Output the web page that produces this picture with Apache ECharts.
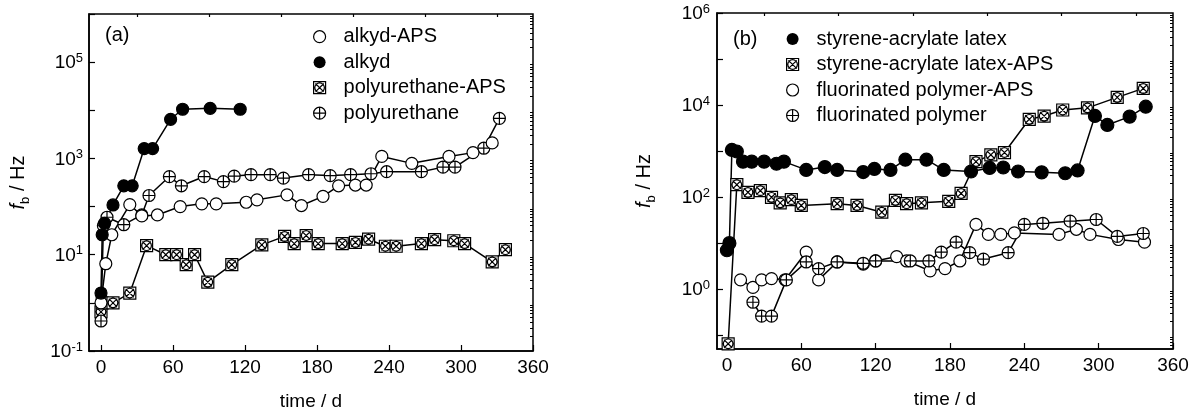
<!DOCTYPE html>
<html>
<head>
<meta charset="utf-8">
<script src="https://cdn.jsdelivr.net/npm/echarts@6/dist/echarts.min.js"></script>
<style>
  html, body { margin: 0; padding: 0; background: #fff; }
  #chart { width: 1200px; height: 418px; }
</style>
</head>
<body>
<div id="chart"></div>
<script>
// ---- panel (a): f_b (Hz) vs time (d) ----
const alkydApsDays = [0, 4, 9, 24, 34, 47, 66, 84, 96, 121, 130, 155, 167, 185, 198, 212, 221, 234, 259, 290, 310, 326];
const alkydApsFb = [1.0, 6.5, 26, 110, 64, 67, 100, 114, 114, 123, 138, 175, 105, 163, 270, 280, 280, 1100, 790, 1100, 1320, 2100];

const alkydDays = [0, 1, 3, 10, 19, 26, 36, 43, 58, 68, 91, 116];
const alkydFb = [1.6, 26, 45, 108, 270, 270, 1600, 1600, 6500, 10500, 11000, 10500];

const puApsDays = [0, 1, 10, 24, 38, 54, 63, 71, 78, 89, 109, 134, 153, 161, 171, 181, 201, 212, 223, 237, 246, 267, 278, 294, 303, 326, 337];
const puApsFb = [0.65, 1.0, 1.0, 1.6, 15.4, 10, 10, 6.2, 10, 2.7, 6.2, 16, 24, 17, 25, 17, 17, 18, 21, 15, 15, 17, 20.5, 19.5, 17, 7.1, 12.7];

const puDays = [0, 2, 5, 19, 34, 40, 57, 67, 86, 102, 111, 125, 141, 152, 173, 191, 208, 225, 238, 267, 285, 295, 319, 332];
const puFb = [0.42, 40, 60, 42, 67, 170, 420, 270, 420, 330, 430, 460, 460, 390, 460, 440, 460, 480, 530, 530, 660, 660, 1630, 6800];

// ---- panel (b) ----
const latexDays = [0, 2, 4, 8, 13, 20, 30, 40, 46, 64, 79, 89, 110, 119, 132, 144, 161, 175, 197, 212, 223, 235, 254, 273, 283, 297, 307, 325, 338];
const latexFb = [7, 10, 1060, 980, 590, 590, 590, 530, 590, 390, 450, 390, 350, 410, 390, 650, 650, 390, 360, 430, 440, 360, 345, 330, 380, 5800, 3700, 5600, 9200];

const latexApsDays = [1, 8, 17, 27, 36, 43, 52, 60, 89, 105, 125, 136, 145, 157, 179, 189, 201, 213, 224, 244, 256, 271, 291, 315, 336];
const latexApsFb = [0.065, 186, 127, 138, 99, 75, 88, 66, 72, 66, 47, 85, 72, 75, 81, 120, 590, 830, 930, 4900, 5760, 7800, 8700, 14700, 23000];

const fluorApsDays = [11, 21, 28, 36, 47, 64, 74, 89, 110, 120, 137, 145, 164, 176, 188, 201, 211, 221, 232, 268, 282, 293, 316, 337];
const fluorApsFb = [1.59, 1.09, 1.59, 1.7, 1.6, 6.4, 1.59, 3.9, 3.5, 4.1, 5.1, 4.1, 2.5, 2.8, 4.1, 25.5, 15.5, 15.5, 16.7, 15.5, 20, 15.5, 12, 10.5];

const fluorDays = [21, 28, 36, 48, 64, 74, 89, 110, 120, 148, 163, 173, 185, 196, 207, 227, 240, 255, 277, 298, 315, 336];
const fluorFb = [0.52, 0.26, 0.26, 1.59, 3.9, 2.8, 3.9, 3.65, 4.1, 4.1, 4.1, 6.4, 10.5, 6.2, 4.5, 6.2, 25.5, 27, 30, 32.6, 14, 16.2];

// ---- ticks ----
const xTickDays = [0, 60, 120, 180, 240, 300, 360];
const xMinorDays = [30, 90, 150, 210, 270, 330];
const decadeExps = [-1, 0, 1, 2, 3, 4, 5, 6];
const leftExpLabels = [-1, 1, 3, 5];
const rightExpLabels = [0, 2, 4, 6];

const FONT = '"Liberation Sans", Arial, Helvetica, sans-serif';
const SYM_BOXX = 'path://M0,0L20,0L20,20L0,20Z M3,3L17,17 M17,3L3,17 M2,10A8,8 0 1,1 18,10A8,8 0 1,1 2,10Z';
const SYM_PLUS = 'path://M0,10A10,10 0 1,1 20,10A10,10 0 1,1 0,10Z M10,0L10,20 M0,10L20,10';

const pts = (days, fb) => days.map((d, i) => [d, Math.log10(fb[i])]);

function logMinors(lo, hi) {
  const out = [];
  for (let n = Math.floor(lo); n < hi; n++) {
    for (let k = 2; k <= 9; k++) {
      const v = n + Math.log10(k);
      if (v >= lo && v <= hi) out.push(v);
    }
  }
  return out;
}

const chart = echarts.init(document.getElementById('chart'));

function xAxes(grid, min) {
  return [{
    gridIndex: grid, type: 'value', min: min, max: 360,
    axisLine: { onZero: false, lineStyle: { color: '#000', width: 1.5 } },
    axisTick: { inside: true, length: 6, customValues: xTickDays, lineStyle: { color: '#000', width: 1.2 } },
    axisLabel: { customValues: xTickDays, fontSize: 19, margin: 7, color: '#000', fontFamily: FONT },
    splitLine: { show: false },
    name: 'time / d', nameLocation: 'middle', nameGap: 41,
    nameTextStyle: { fontSize: 19, color: '#000', fontFamily: FONT }
  }, {
    gridIndex: grid, type: 'value', min: min, max: 360,
    axisLine: { show: false, onZero: false },
    axisTick: { inside: true, length: 3, customValues: xMinorDays, lineStyle: { color: '#000', width: 1.2 } },
    axisLabel: { show: false },
    splitLine: { show: false }
  }];
}

const expRich = {
  b: { fontSize: 19, lineHeight: 21, color: '#000', fontFamily: FONT, verticalAlign: 'bottom' },
  s: { fontSize: 13, lineHeight: 13, color: '#000', fontFamily: FONT, verticalAlign: 'top' }
};

function yAxes(grid, min, labels, margin, nameGap) {
  return [{
    gridIndex: grid, type: 'value', min: min, max: 6,
    axisLine: { onZero: false, lineStyle: { color: '#000', width: 1.5 } },
    axisTick: { inside: true, length: 6, customValues: decadeExps, lineStyle: { color: '#000', width: 1.2 } },
    axisLabel: {
      customValues: labels, margin: margin,
      formatter: v => '{b|10}{s|' + Math.round(v) + '}',
      rich: expRich
    },
    splitLine: { show: false },
    name: '{i|f}{sub|b}{n| / Hz}', nameLocation: 'middle', nameGap: nameGap,
    nameTextStyle: {
      rich: {
        i: { fontSize: 20, fontStyle: 'italic', color: '#000', fontFamily: FONT, lineHeight: 22, verticalAlign: 'top' },
        sub: { fontSize: 13, color: '#000', fontFamily: FONT, lineHeight: 13, padding: [11, 0, 0, 0], verticalAlign: 'top' },
        n: { fontSize: 20, color: '#000', fontFamily: FONT, lineHeight: 22, verticalAlign: 'top' }
      }
    }
  }, {
    gridIndex: grid, type: 'value', min: min, max: 6,
    axisLine: { show: false, onZero: false },
    axisTick: { inside: true, length: 3, customValues: logMinors(min, 6), lineStyle: { color: '#000', width: 1 } },
    axisLabel: { show: false },
    splitLine: { show: false }
  }];
}

function mk(name, days, fb, symbol, fill, xi, yi, size) {
  return {
    name: name, type: 'line', xAxisIndex: xi, yAxisIndex: yi,
    data: pts(days, fb),
    symbol: symbol, symbolSize: size, showAllSymbol: true,
    itemStyle: { color: fill, borderColor: '#000', borderWidth: 1.2 },
    lineStyle: { color: '#000', width: 1.5 },
    emphasis: { disabled: true }, silent: true
  };
}

const openStyle = { color: '#fff', borderColor: '#000', borderWidth: 1.2 };
const fullStyle = { color: '#000', borderColor: '#000', borderWidth: 0 };

function legend(left, top, items) {
  return {
    left: left, top: top, orient: 'vertical', padding: 0,
    itemWidth: 38, itemHeight: 12, itemGap: 1.5, selectedMode: false,
    textStyle: { fontSize: 20, lineHeight: 24, color: '#000', fontFamily: FONT },
    data: items
  };
}

const option = {
  animation: false,
  backgroundColor: '#fff',
  title: [
    { text: '(a)', left: 105, top: 23, padding: 0, textStyle: { fontSize: 20, lineHeight: 24, fontWeight: 'normal', color: '#000', fontFamily: FONT } },
    { text: '(b)', left: 733, top: 27, padding: 0, textStyle: { fontSize: 20, lineHeight: 24, fontWeight: 'normal', color: '#000', fontFamily: FONT } }
  ],
  grid: [
    { left: 89, top: 14, width: 444, height: 337, show: true, borderColor: '#000', borderWidth: 1.5 },
    { left: 717, top: 13, width: 456, height: 336, show: true, borderColor: '#000', borderWidth: 1.5 }
  ],
  xAxis: [...xAxes(0, -10), ...xAxes(1, -8)],
  yAxis: [...yAxes(0, -1, leftExpLabels, 6, 59), ...yAxes(1, -1.3, rightExpLabels, 7, 61)],
  legend: [
    legend(313, 24.7, [
      { name: 'alkyd-APS', icon: 'circle', itemStyle: openStyle },
      { name: 'alkyd', icon: 'circle', itemStyle: fullStyle },
      { name: 'polyurethane-APS', icon: SYM_BOXX, itemStyle: openStyle },
      { name: 'polyurethane', icon: SYM_PLUS, itemStyle: openStyle }
    ]),
    legend(786, 27, [
      { name: 'styrene-acrylate latex', icon: 'circle', itemStyle: fullStyle },
      { name: 'styrene-acrylate latex-APS', icon: SYM_BOXX, itemStyle: openStyle },
      { name: 'fluorinated polymer-APS', icon: 'circle', itemStyle: openStyle },
      { name: 'fluorinated polymer', icon: SYM_PLUS, itemStyle: openStyle }
    ])
  ],
  series: [
    mk('polyurethane-APS', puApsDays, puApsFb, SYM_BOXX, '#fff', 0, 0, 12),
    mk('polyurethane', puDays, puFb, SYM_PLUS, '#fff', 0, 0, 12),
    mk('alkyd-APS', alkydApsDays, alkydApsFb, 'circle', '#fff', 0, 0, 12),
    mk('alkyd', alkydDays, alkydFb, 'circle', '#000', 0, 0, 12),
    mk('fluorinated polymer-APS', fluorApsDays, fluorApsFb, 'circle', '#fff', 2, 2, 12),
    mk('fluorinated polymer', fluorDays, fluorFb, SYM_PLUS, '#fff', 2, 2, 12),
    mk('styrene-acrylate latex-APS', latexApsDays, latexApsFb, SYM_BOXX, '#fff', 2, 2, 12),
    mk('styrene-acrylate latex', latexDays, latexFb, 'circle', '#000', 2, 2, 13)
  ]
};

chart.setOption(option);
</script>
</body>
</html>
